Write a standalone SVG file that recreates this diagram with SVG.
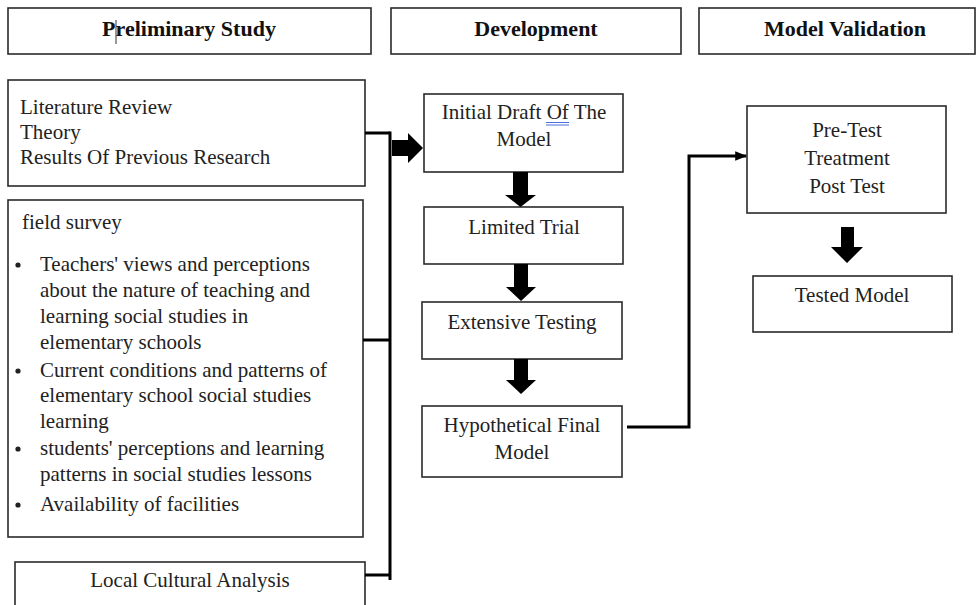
<svg xmlns="http://www.w3.org/2000/svg" width="977" height="605" viewBox="0 0 977 605">
<defs>
<style>
.box{fill:#fff;stroke:#2a2a2a;stroke-width:1.6}
.t{font-family:"Liberation Serif","Times New Roman",serif;font-size:21px;fill:#222}
.h{font-family:"Liberation Serif","Times New Roman",serif;font-size:22px;font-weight:bold;fill:#111}
.c{text-anchor:middle}
.ln{fill:none;stroke:#000;stroke-width:3}
.blk{fill:#000}
</style>
<marker id="ah" viewBox="0 0 10 10" refX="9" refY="5" markerWidth="4" markerHeight="4" orient="auto" markerUnits="strokeWidth">
<path d="M0,1 L10,5 L0,9 z" fill="#000"/>
</marker>
</defs>
<rect width="977" height="605" fill="#fff"/>

<g id="hdr-preliminary">
<rect class="box" x="8" y="8" width="363" height="46"/>
<text class="h c" x="189" y="36">Preliminary Study</text>
<line x1="116" y1="20" x2="116" y2="44" stroke="#333" stroke-width="1"/>
</g>
<g id="hdr-development">
<rect class="box" x="391" y="8" width="290" height="46"/>
<text class="h c" x="536" y="36">Development</text>
</g>
<g id="hdr-validation">
<rect class="box" x="699" y="8" width="276" height="46"/>
<text class="h c" x="845" y="36">Model Validation</text>
</g>

<g id="literature">
<rect class="box" x="8" y="80" width="357" height="106"/>
<text class="t" x="20" y="114">Literature Review</text>
<text class="t" x="20" y="139">Theory</text>
<text class="t" x="20" y="164">Results Of Previous Research</text>
</g>

<g id="field-survey">
<rect class="box" x="8" y="200" width="355" height="337"/>
<text class="t" x="22" y="229">field survey</text>
<circle cx="18" cy="265" r="2.6" fill="#222"/>
<circle cx="18" cy="371" r="2.6" fill="#222"/>
<circle cx="18" cy="449" r="2.6" fill="#222"/>
<circle cx="18" cy="505" r="2.6" fill="#222"/>
<text class="t" x="40" y="271">Teachers' views and perceptions</text>
<text class="t" x="40" y="297">about the nature of teaching and</text>
<text class="t" x="40" y="323">learning social studies in</text>
<text class="t" x="40" y="349">elementary schools</text>
<text class="t" x="40" y="377">Current conditions and patterns of</text>
<text class="t" x="40" y="402">elementary school social studies</text>
<text class="t" x="40" y="428">learning</text>
<text class="t" x="40" y="455">students' perceptions and learning</text>
<text class="t" x="40" y="481">patterns in social studies lessons</text>
<text class="t" x="40" y="511">Availability of facilities</text>
</g>

<g id="local-cultural">
<rect class="box" x="15" y="562" width="350" height="60"/>
<text class="t c" x="190" y="587">Local Cultural Analysis</text>
</g>

<g id="initial-draft">
<rect class="box" x="424" y="94" width="199" height="78"/>
<text class="t c" x="524" y="119">Initial Draft Of The</text>
<text class="t c" x="524" y="146">Model</text>
<line x1="546" y1="122.5" x2="569" y2="122.5" stroke="#4a6fd8" stroke-width="1"/>
<line x1="546" y1="125" x2="569" y2="125" stroke="#4a6fd8" stroke-width="1"/>
</g>

<g id="limited-trial">
<rect class="box" x="424" y="207" width="199" height="57"/>
<text class="t c" x="524" y="234">Limited Trial</text>
</g>

<g id="extensive-testing">
<rect class="box" x="422" y="302" width="200" height="57"/>
<text class="t c" x="522" y="329">Extensive Testing</text>
</g>

<g id="hypothetical">
<rect class="box" x="422" y="406" width="200" height="71"/>
<text class="t c" x="522" y="432">Hypothetical Final</text>
<text class="t c" x="522" y="459">Model</text>
</g>

<g id="pretest">
<rect class="box" x="747" y="106" width="199" height="107"/>
<text class="t c" x="847" y="137">Pre-Test</text>
<text class="t c" x="847" y="165">Treatment</text>
<text class="t c" x="847" y="193">Post Test</text>
</g>

<g id="tested-model">
<rect class="box" x="753" y="276" width="199" height="56"/>
<text class="t c" x="852" y="302">Tested Model</text>
</g>

<g id="connectors">
<path class="ln" d="M365,133 H390"/>
<path class="ln" d="M390,131.5 V580"/>
<path class="ln" d="M363,340 H390"/>
<path class="ln" d="M365,575 H390"/>
<polygon class="blk" points="392,140 408,140 408,133 423,148 408,163 408,156 392,156"/>
<polygon class="blk" points="513,172 528,172 528,195 536,195 520.5,207 505,195 513,195"/>
<polygon class="blk" points="514,264 528,264 528,287 536,287 521,301 506,287 514,287"/>
<polygon class="blk" points="514,359 528,359 528,380 536,380 521,394 506,380 514,380"/>
<polygon class="blk" points="841,227 854,227 854,247 863,247 847,263 831,247 841,247"/>
<path class="ln" d="M627,427 H689 V156 H746" marker-end="url(#ah)"/>
</g>
</svg>
